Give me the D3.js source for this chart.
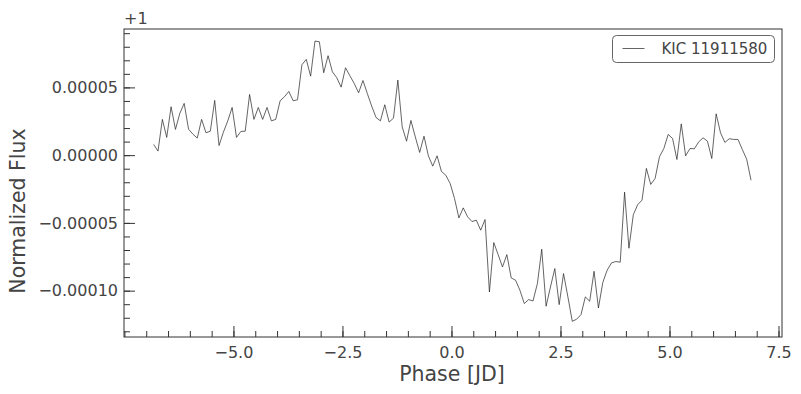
<!DOCTYPE html>
<html>
<head>
<meta charset="utf-8">
<script src="https://cdn.jsdelivr.net/npm/d3@7"></script>
<style>
  body { margin: 0; background: #fff; }
  svg { font-family: "DejaVu Sans", sans-serif; }
</style>
</head>
<body>
<svg></svg>
<script>
// folded light curve, phase in days
const phase = [
  -6.83,-6.73,-6.63,-6.53,-6.43,-6.33,-6.23,-6.13,-6.03,-5.93,
  -5.83,-5.73,-5.63,-5.53,-5.43,-5.33,-5.23,-5.13,-5.03,-4.93,
  -4.83,-4.73,-4.63,-4.53,-4.43,-4.33,-4.23,-4.13,-4.03,-3.93,
  -3.83,-3.73,-3.63,-3.53,-3.43,-3.33,-3.23,-3.13,-3.03,-2.93,
  -2.83,-2.73,-2.63,-2.53,-2.43,-2.33,-2.23,-2.13,-2.03,-1.93,
  -1.83,-1.73,-1.63,-1.53,-1.43,-1.33,-1.23,-1.13,-1.03,-0.93,
  -0.83,-0.73,-0.63,-0.53,-0.43,-0.33,-0.23,-0.13,-0.03,0.07,
  0.17,0.27,0.37,0.47,0.57,0.67,0.77,0.87,0.97,1.07,
  1.17,1.27,1.37,1.47,1.57,1.67,1.77,1.87,1.97,2.07,
  2.17,2.27,2.37,2.47,2.57,2.67,2.77,2.87,2.97,3.07,
  3.17,3.27,3.37,3.47,3.57,3.67,3.77,3.87,3.97,4.07,
  4.17,4.27,4.37,4.47,4.57,4.67,4.77,4.87,4.97,5.07,
  5.17,5.27,5.37,5.47,5.57,5.67,5.77,5.87,5.97,6.07,
  6.17,6.27,6.37,6.47,6.57,6.67,6.77,6.87
]

// normalized flux minus 1, in units of 1e-5
const flux = [
  0.79,0.30,2.64,1.31,3.57,1.90,3.08,3.82,1.92,1.55,
  1.26,2.64,1.65,1.77,4.04,0.71,1.70,2.53,3.52,1.31,
  1.75,1.77,4.48,2.64,3.52,2.64,3.52,2.53,2.64,4.01,
  4.31,4.70,4.01,4.09,6.67,7.07,5.83,8.42,8.37,6.08,
  7.34,6.15,5.71,5.02,6.45,5.86,5.29,4.60,5.51,4.55,
  3.62,2.78,2.53,3.72,2.44,2.73,5.54,2.09,1.03,2.56,
  1.35,0.20,1.40,-0.05,-0.81,-0.05,-1.20,-1.48,-2.09,-3.20,
  -4.63,-3.89,-4.55,-4.90,-4.80,-5.54,-4.75,-10.10,-6.45,-7.34,
  -8.25,-7.34,-9.06,-9.23,-9.97,-10.95,-10.66,-10.76,-9.48,-6.94,
  -11.15,-9.73,-8.37,-11.03,-8.74,-10.46,-12.26,-12.11,-11.77,-10.46,
  -10.78,-8.57,-11.28,-9.40,-8.49,-7.95,-7.85,-7.90,-2.73,-6.87,
  -4.40,-3.66,-3.32,-0.98,-2.16,-1.72,-0.12,0.49,1.53,1.23,
  -0.32,2.31,-0.05,0.49,0.47,0.98,1.28,1.03,-0.25,3.05,
  1.65,0.94,1.21,1.16,1.16,0.42,-0.30,-1.85
]

const label = "KIC 11911580"
const xTicks = [-5.0, -2.5, 0.0, 2.5, 5.0, 7.5]
const yTicks = [-0.00010, -0.00005, 0.00000, 0.00005]

const width = 801
const height = 394
const margin = { left: 124, top: 29, right: 19, bottom: 57 }
const w = width - margin.left - margin.right
const h = height - margin.top - margin.bottom

const textColor = "#444"
const frameColor = "#333"

const svg = d3.select("svg")
  .attr("width", width)
  .attr("height", height)

const x = d3.scaleLinear().domain([-7.51, 7.58]).range([0, w])
const y = d3.scaleLinear().domain([-13.42e-5, 9.31e-5]).range([h, 0])

const g = svg.append("g")
  .attr("transform", `translate(${margin.left},${margin.top})`)

// minor ticks
const xMinor = d3.range(-7.5, 7.51, 0.5).filter(v => x(v) >= 0 && x(v) <= w)
const yMinor = d3.range(-13, 10, 1).map(v => v * 1e-5)

g.append("g")
  .attr("transform", `translate(0,${h})`)
  .call(d3.axisBottom(x).tickValues(xMinor).tickSize(-6).tickFormat(""))
g.append("g")
  .call(d3.axisLeft(y).tickValues(yMinor).tickSize(-6).tickFormat(""))

// major ticks
const xAxis = g.append("g")
  .attr("transform", `translate(0,${h})`)
  .call(d3.axisBottom(x).tickValues(xTicks).tickSize(-11).tickPadding(10)
    .tickFormat(d3.format(".1f")))
const yAxis = g.append("g")
  .call(d3.axisLeft(y).tickValues(yTicks).tickSize(-11).tickPadding(6)
    .tickFormat(d3.format(".5f")))

g.selectAll(".domain").remove()
g.selectAll(".tick line").attr("stroke", frameColor).attr("stroke-width", 1)
g.selectAll(".tick text")
  .attr("fill", textColor)
  .attr("font-size", 16)
  .attr("font-family", "DejaVu Sans")

// frame
g.append("rect")
  .attr("x", 0).attr("y", 0)
  .attr("width", w).attr("height", h)
  .attr("fill", "none")
  .attr("stroke", frameColor)
  .attr("stroke-width", 1)

// light curve
const line = d3.line()
  .x((d, i) => x(phase[i]))
  .y(d => y(d * 1e-5))

g.append("path")
  .datum(flux)
  .attr("d", line)
  .attr("fill", "none")
  .attr("stroke", "#222")
  .attr("stroke-width", 0.7)

// offset text
g.append("text")
  .attr("x", 0)
  .attr("y", -5)
  .attr("fill", textColor)
  .attr("font-size", 16)
  .text("+1")

// axis labels
svg.append("text")
  .attr("x", margin.left + x(0.0) + 0.5)
  .attr("y", 381)
  .attr("text-anchor", "middle")
  .attr("fill", textColor)
  .attr("font-size", 20.5)
  .text("Phase [JD]")

svg.append("text")
  .attr("transform", `translate(25,${margin.top + h / 2 + 28}) rotate(-90)`)
  .attr("text-anchor", "middle")
  .attr("fill", textColor)
  .attr("font-size", 20.5)
  .text("Normalized Flux")

// legend
const lg = svg.append("g").attr("transform", "translate(612.5,35.5)")
lg.append("rect")
  .attr("width", 162)
  .attr("height", 27)
  .attr("rx", 4)
  .attr("fill", "#fff")
  .attr("stroke", "#666")
  .attr("stroke-width", 1)
lg.append("line")
  .attr("x1", 10).attr("x2", 32)
  .attr("y1", 13).attr("y2", 13)
  .attr("stroke", "#222")
  .attr("stroke-width", 0.7)
lg.append("text")
  .attr("x", 49)
  .attr("y", 18.5)
  .attr("fill", textColor)
  .attr("font-size", 15)
  .text(label)
</script>
</body>
</html>
